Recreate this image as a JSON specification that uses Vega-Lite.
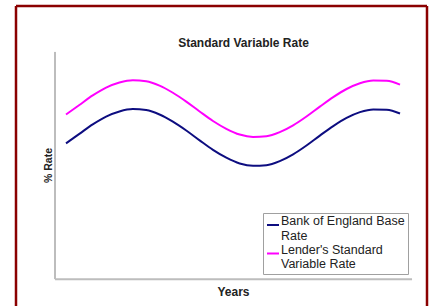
{
  "$schema": "https://vega.github.io/schema/vega-lite/v6.json",
  "autosize": "none",
  "width": 411,
  "height": 300,
  "padding": {"left": 16, "top": 6, "right": 3, "bottom": 0},
  "background": "white",
  "view": {"stroke": null},
  "config": {"font": "Liberation Sans"},
  "title": {
    "text": "Standard Variable Rate",
    "font": "Liberation Sans",
    "fontSize": 12,
    "fontWeight": "bold",
    "color": "#222222",
    "anchor": "middle",
    "dx": 22,
    "offset": -50,
    "baseline": "middle"
  },
  "data": {
    "values": [
      {"year": 0, "rate": 3.99, "series": "Bank of England Base Rate"},
      {"year": 1, "rate": 4.27, "series": "Bank of England Base Rate"},
      {"year": 2, "rate": 4.55, "series": "Bank of England Base Rate"},
      {"year": 3, "rate": 4.78, "series": "Bank of England Base Rate"},
      {"year": 4, "rate": 4.93, "series": "Bank of England Base Rate"},
      {"year": 5, "rate": 5.0, "series": "Bank of England Base Rate"},
      {"year": 6, "rate": 4.97, "series": "Bank of England Base Rate"},
      {"year": 7, "rate": 4.84, "series": "Bank of England Base Rate"},
      {"year": 8, "rate": 4.63, "series": "Bank of England Base Rate"},
      {"year": 9, "rate": 4.37, "series": "Bank of England Base Rate"},
      {"year": 10, "rate": 4.08, "series": "Bank of England Base Rate"},
      {"year": 11, "rate": 3.8, "series": "Bank of England Base Rate"},
      {"year": 12, "rate": 3.57, "series": "Bank of England Base Rate"},
      {"year": 13, "rate": 3.4, "series": "Bank of England Base Rate"},
      {"year": 14, "rate": 3.33, "series": "Bank of England Base Rate"},
      {"year": 15, "rate": 3.35, "series": "Bank of England Base Rate"},
      {"year": 16, "rate": 3.47, "series": "Bank of England Base Rate"},
      {"year": 17, "rate": 3.67, "series": "Bank of England Base Rate"},
      {"year": 18, "rate": 3.93, "series": "Bank of England Base Rate"},
      {"year": 19, "rate": 4.22, "series": "Bank of England Base Rate"},
      {"year": 20, "rate": 4.5, "series": "Bank of England Base Rate"},
      {"year": 21, "rate": 4.74, "series": "Bank of England Base Rate"},
      {"year": 22, "rate": 4.91, "series": "Bank of England Base Rate"},
      {"year": 23, "rate": 4.99, "series": "Bank of England Base Rate"},
      {"year": 24, "rate": 4.98, "series": "Bank of England Base Rate"},
      {"year": 25, "rate": 4.87, "series": "Bank of England Base Rate"},
      {"year": 0, "rate": 4.84, "series": "Lender's Standard Variable Rate"},
      {"year": 1, "rate": 5.12, "series": "Lender's Standard Variable Rate"},
      {"year": 2, "rate": 5.4, "series": "Lender's Standard Variable Rate"},
      {"year": 3, "rate": 5.63, "series": "Lender's Standard Variable Rate"},
      {"year": 4, "rate": 5.78, "series": "Lender's Standard Variable Rate"},
      {"year": 5, "rate": 5.85, "series": "Lender's Standard Variable Rate"},
      {"year": 6, "rate": 5.82, "series": "Lender's Standard Variable Rate"},
      {"year": 7, "rate": 5.69, "series": "Lender's Standard Variable Rate"},
      {"year": 8, "rate": 5.48, "series": "Lender's Standard Variable Rate"},
      {"year": 9, "rate": 5.22, "series": "Lender's Standard Variable Rate"},
      {"year": 10, "rate": 4.93, "series": "Lender's Standard Variable Rate"},
      {"year": 11, "rate": 4.65, "series": "Lender's Standard Variable Rate"},
      {"year": 12, "rate": 4.42, "series": "Lender's Standard Variable Rate"},
      {"year": 13, "rate": 4.25, "series": "Lender's Standard Variable Rate"},
      {"year": 14, "rate": 4.18, "series": "Lender's Standard Variable Rate"},
      {"year": 15, "rate": 4.2, "series": "Lender's Standard Variable Rate"},
      {"year": 16, "rate": 4.32, "series": "Lender's Standard Variable Rate"},
      {"year": 17, "rate": 4.52, "series": "Lender's Standard Variable Rate"},
      {"year": 18, "rate": 4.78, "series": "Lender's Standard Variable Rate"},
      {"year": 19, "rate": 5.07, "series": "Lender's Standard Variable Rate"},
      {"year": 20, "rate": 5.35, "series": "Lender's Standard Variable Rate"},
      {"year": 21, "rate": 5.59, "series": "Lender's Standard Variable Rate"},
      {"year": 22, "rate": 5.76, "series": "Lender's Standard Variable Rate"},
      {"year": 23, "rate": 5.84, "series": "Lender's Standard Variable Rate"},
      {"year": 24, "rate": 5.83, "series": "Lender's Standard Variable Rate"},
      {"year": 25, "rate": 5.72, "series": "Lender's Standard Variable Rate"}
    ]
  },
  "layer": [
    {
      "mark": {"type": "line", "interpolate": "monotone", "strokeWidth": 2},
      "encoding": {
        "x": {
          "field": "year",
          "type": "quantitative",
          "scale": {"domain": [-3.743, 27.02], "nice": false, "zero": false},
          "axis": {
            "title": "Years",
            "domain": false, "ticks": false, "labels": false, "grid": false,
            "titleFont": "Liberation Sans", "titleFontSize": 12, "titleFontWeight": "bold",
            "titleColor": "#222222", "titleX": 217, "titleY": -15,
            "titleAlign": "center", "titleBaseline": "middle"
          }
        },
        "y": {
          "field": "rate",
          "type": "quantitative",
          "scale": {"domain": [-0.79, 8.03], "nice": false, "zero": false},
          "axis": {
            "title": "% Rate",
            "domain": false, "ticks": false, "labels": false, "grid": false,
            "titleFont": "Liberation Sans", "titleFontSize": 10.5, "titleFontWeight": "bold",
            "titleColor": "#222222", "titleX": 32, "titleY": 159, "titleAngle": -90,
            "titleAlign": "center", "titleBaseline": "middle"
          }
        },
        "color": {
          "field": "series",
          "type": "nominal",
          "scale": {
            "domain": ["Bank of England Base Rate", "Lender's Standard Variable Rate"],
            "range": ["#0d0d80", "#ff00ff"]
          },
          "legend": {
            "orient": "none",
            "legendX": 247,
            "legendY": 207,
            "title": " ",
            "titleFontSize": 2,
            "titlePadding": 0,
            "strokeColor": "#a0a0a0",
            "fillColor": "white",
            "padding": 3,
            "symbolType": "stroke",
            "symbolStrokeWidth": 2,
            "symbolSize": 144,
            "labelFont": "Liberation Sans",
            "labelFontSize": 12.5,
            "labelColor": "#222222",
            "labelLimit": 200,
            "labelOffset": 1,
            "labelBaseline": "alphabetic",
            "labelLineHeight": 13,
            "rowPadding": 1.5,
            "labelExpr": "datum.value == 'Bank of England Base Rate' ? ['Bank of England Base', 'Rate'] : [\"Lender's Standard\", 'Variable Rate']"
          }
        }
      }
    },
    {
      "data": {"values": [{}]},
      "mark": {"type": "rule", "color": "#8b0000", "strokeWidth": 2.5},
      "encoding": {
        "x": {"datum": -3.743, "type": "quantitative"},
        "y": {"datum": -0.79, "type": "quantitative"},
        "y2": {"datum": 8.03}
      }
    },
    {
      "data": {"values": [{}]},
      "mark": {"type": "rule", "color": "#8b0000", "strokeWidth": 2.5},
      "encoding": {
        "x": {"datum": 27.02, "type": "quantitative"},
        "y": {"datum": -0.79, "type": "quantitative"},
        "y2": {"datum": 8.03}
      }
    },
    {
      "data": {"values": [{}]},
      "mark": {"type": "rule", "color": "#8b0000", "strokeWidth": 2.5},
      "encoding": {
        "x": {"datum": -3.743, "type": "quantitative"},
        "x2": {"datum": 27.02},
        "y": {"datum": 8.03, "type": "quantitative"}
      }
    },
    {
      "data": {"values": [{}]},
      "mark": {"type": "rule", "color": "#bdbdbd", "strokeWidth": 2},
      "encoding": {
        "x": {"datum": -0.823, "type": "quantitative"},
        "y": {"datum": 0, "type": "quantitative"},
        "y2": {"datum": 6.68}
      }
    },
    {
      "data": {"values": [{}]},
      "mark": {"type": "rule", "color": "#bdbdbd", "strokeWidth": 2},
      "encoding": {
        "x": {"datum": -0.823, "type": "quantitative"},
        "x2": {"datum": 25.9},
        "y": {"datum": 0, "type": "quantitative"}
      }
    }
  ]
}
